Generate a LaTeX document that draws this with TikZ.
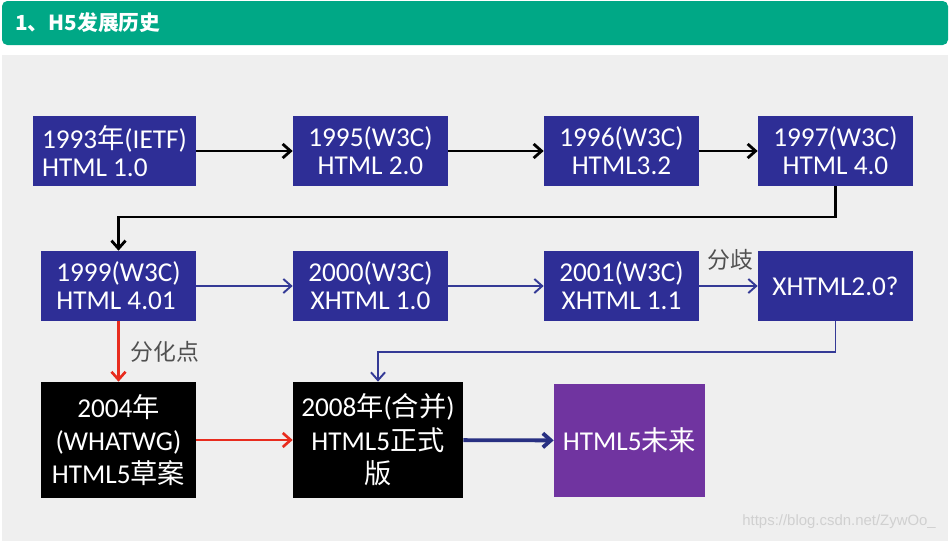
\documentclass[tikz,border=0pt]{standalone}
\usepackage{fontspec}
\setmainfont{Carlito}
\setsansfont{Liberation Sans}
\newfontfamily\cjk{Noto Sans CJK SC}
\usepackage{xcolor}
\usepackage{tikz}
\usetikzlibrary{arrows.meta}

\definecolor{boxblue}{RGB}{46,46,150}
\definecolor{linkblue}{RGB}{52,58,150}
\definecolor{darkblue}{RGB}{40,48,130}
\definecolor{futpurple}{RGB}{112,52,160}
\definecolor{forkred}{RGB}{232,44,30}
\definecolor{headgreen}{RGB}{0,168,134}
\definecolor{pagegray}{RGB}{239,239,239}
\definecolor{notegray}{RGB}{80,80,80}
\newcommand{\zh}[1]{{\cjk #1}}

\begin{document}
\begin{tikzpicture}[x=0.02cm,y=-0.02cm]
            \tikzset{verbox/.style = {rectangle, fill=boxblue, text=white, inner sep=0pt,
                minimum width=3.1cm, minimum height=1.4cm, align=center,
                font=\fontsize{15.5}{16}\selectfont}}
            \tikzset{finbox/.style = {verbox, fill=black, minimum height=2.32cm,
                font=\fontsize{15.5}{19}\selectfont}}
            \tikzset{oldedge/.style = {-{Straight Barb[length=4.5pt,width=8pt]}, line width=1.6pt}}
            \tikzset{newedge/.style = {-{Straight Barb[length=4.5pt,width=8pt]}, line width=1.1pt, linkblue}}
            \tikzset{forkedge/.style = {-{Straight Barb[length=4.5pt,width=8pt]}, line width=1.5pt, forkred}}
            \tikzset{note/.style = {font=\cjk\fontsize{13}{15}\selectfont, text=notegray}}

            % page
            \useasboundingbox (0,0) rectangle (950,541);
            \fill[white] (0,0) rectangle (950,541);
            \fill[headgreen, rounded corners=3pt] (2,1) rectangle (948,45);
            \fill[pagegray] (2,55) rectangle (948,541);
            \node[anchor=west, inner sep=0pt, text=white, font=\cjk\bfseries\fontsize{11.8}{14}\selectfont] (title) at (15,23) {1、H5发展历史};

            % vertices
            \node[verbox, minimum width=3.26cm, align=left] (v1993) at (114.5,151) {1993\zh{年}(IETF)\\HTML 1.0};
            \node[verbox] (v1995) at (370.5,151) {1995(W3C)\\HTML 2.0};
            \node[verbox] (v1996) at (621.5,151) {1996(W3C)\\HTML3.2};
            \node[verbox] (v1997) at (835.5,151) {1997(W3C)\\HTML 4.0};
            \node[verbox, align=left] (v1999) at (118.5,286) {1999(W3C)\\HTML 4.01};
            \node[verbox] (v2000) at (370.5,286) {2000(W3C)\\XHTML 1.0};
            \node[verbox] (v2001) at (621.5,286) {2001(W3C)\\XHTML 1.1};
            \node[verbox] (vx20) at (835.5,286) {XHTML2.0?};
            \node[finbox] (v2004) at (118.5,440) {2004\zh{年}\\(WHATWG)\\HTML5\zh{草案}};
            \node[finbox, minimum width=3.4cm] (v2008) at (378,440) {2008\zh{年}(\zh{合并})\\HTML5\zh{正式}\\\zh{版}};
            \node[finbox, fill=futpurple, minimum width=3.02cm, minimum height=2.26cm] (vfut) at (629.5,440.5) {HTML5\zh{未来}};

            % edges
            \foreach \a/\b in {v1993/v1995,v1995/v1996,v1996/v1997} {\draw[oldedge] (\a) to (\b);}
            \coordinate (turn1) at (476,217);
            \draw[oldedge] (v1997.south) |- (turn1) -| (v1999.north);
            \foreach \a/\b in {v1999/v2000,v2000/v2001,v2001/vx20} {\draw[newedge] (\a) to (\b);}
            \coordinate (turn2) at (600,352);
            \draw[newedge] (vx20.south) |- (turn2) -| (v2008.north);
            \draw[forkedge] (v1999) to (v2004);
            \draw[forkedge] (v2004) to (v2008);
            \draw[newedge, darkblue, line width=2.2pt] (v2008) to (vfut);

            % labels
            \node[note] (split) at (730,260) {分歧};
            \node[note] (branch) at (165,352) {分化点};
            \node[anchor=east, text={rgb,255:red,208;green,208;blue,208}, font=\sffamily\fontsize{8.5}{10}\selectfont] (mark) at (942,522) {https://blog.csdn.net/ZywOo\_};
\end{tikzpicture}
\end{document}
